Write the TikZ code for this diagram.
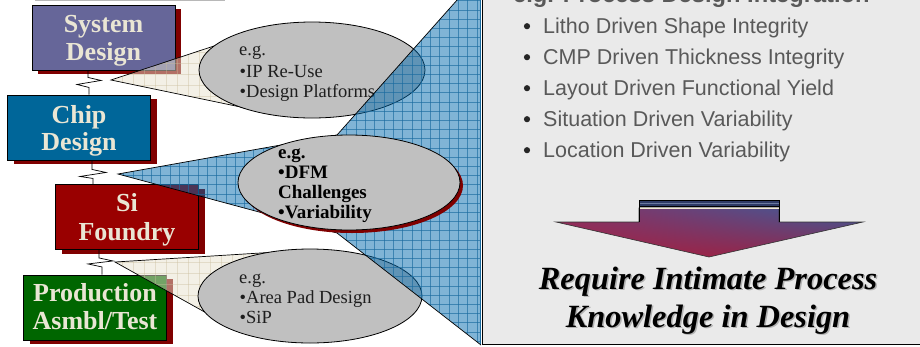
\documentclass[tikz,border=0pt]{standalone}
\usepackage{fontspec}
\setmainfont{Liberation Serif}
\newfontfamily\arialf{Liberation Sans}
\usetikzlibrary{shapes.geometric,shadows,shadings}
\definecolor{sysc}{HTML}{666699}
\definecolor{chipc}{HTML}{006699}
\definecolor{sic}{HTML}{990000}
\definecolor{prodc}{HTML}{006600}
\definecolor{shadc}{HTML}{800000}
\definecolor{boxtxt}{HTML}{EAE6D4}
\definecolor{creamc}{HTML}{E7E1CD}
\definecolor{creamline}{HTML}{C9BD9C}
\definecolor{bluec}{HTML}{0169AD}
\definecolor{blueline}{HTML}{1A6BA0}
\definecolor{ellc}{HTML}{C0C0C0}
\definecolor{panelc}{HTML}{EAEAEA}
\definecolor{paneltxt}{HTML}{595959}
\definecolor{ellt}{HTML}{1E1E1E}
\definecolor{arrUL}{HTML}{8A3062}
\definecolor{arrUR}{HTML}{3A5C9A}
\definecolor{arrLL}{HTML}{A82040}
\definecolor{arrLR}{HTML}{8A2850}
\definecolor{arrtop}{HTML}{2E3A66}
\definecolor{arrmid}{HTML}{6A7AA0}
\definecolor{arrlite}{HTML}{F0E8D0}
\begin{document}
\begin{tikzpicture}[x=1pt,y=-1pt,
  box/.style={draw=black, line width=0.9pt, minimum width=143pt, minimum height=65pt,
    inner sep=0pt,
    general shadow={fill=shadc, shadow xshift=6pt, shadow yshift=-4pt}},
  boxt/.style={anchor=base, inner sep=0pt, text=boxtxt, font=\fontsize{26}{29}\selectfont\bfseries},
  ell/.style={ellipse, draw=black, line width=0.8pt, fill=ellc, inner sep=0pt},
  etxt/.style={anchor=base west, inner sep=0pt, text=ellt, font=\fontsize{18.5}{21}\selectfont},
  btxt/.style={anchor=base west, inner sep=0pt, text=black, font=\fontsize{19}{21}\selectfont\bfseries},
  ptxt/.style={anchor=base west, inner sep=0pt, text=paneltxt, font=\arialf\fontsize{21.5}{25}\selectfont},
  bigtxt/.style={anchor=base, inner sep=0pt, font=\fontsize{32.4}{38}\selectfont\bfseries\itshape},
  zig/.style={draw=black, line width=0.7pt},
  edge/.style={draw=black, line width=0.7pt}
]
\useasboundingbox (0,0) rectangle (920,346);
\clip (0,0) rectangle (920,346);

% top grey line
\draw[black!28, line width=1.6pt] (35,0.6) -- (225,0.6);

% boxes
\node[box, fill=sysc]  (sys)  at (103.5,37.5) {};
\node[box, fill=chipc] (chip) at (79,127.5)   {};
\node[box, fill=sic]   (si)   at (127,217)    {};
\node[box, fill=prodc] (prod) at (95,307.5)   {};
\node[boxt] (sys1)  at ([yshift=5.2pt]sys.center)   {System};
\node[boxt] (sys2)  at ([yshift=-23.2pt]sys.center) {Design};
\node[boxt] (chip1) at ([yshift=4pt]chip.center)    {Chip};
\node[boxt] (chip2) at ([yshift=-23.3pt]chip.center){Design};
\node[boxt] (si1)   at ([yshift=5.3pt]si.center)    {Si};
\node[boxt] (si2)   at ([yshift=-23pt]si.center)    {Foundry};
\node[boxt] (prod1) at ([yshift=5.8pt]prod.center)  {Production};
\node[boxt] (prod2) at ([yshift=-21.8pt]prod.center){Asmbl/Test};

% zigzag links
\draw[zig] ([xshift=-15.5pt]sys.south) -- ++(0,7) -- ++(13,3) -- ++(-24,4) -- ++(12,3) |- ([xshift=10pt]chip.north);
\draw[zig] ([xshift=13pt]chip.south) -- ++(0,9) -- ++(14,3) -- ++(-26,4) -- ++(13,2) |- ([xshift=-34pt]si.north);
\draw[zig] ([xshift=-28pt]si.south) -- ++(0,8) -- ++(14,3) -- ++(-25,3) -- ++(14,3) |- ([xshift=7pt]prod.north);

% wedge 1 (cream)
\coordinate (w1a) at (111,80);
\begin{scope}
  \clip (w1a) -- (220,44) -- (312,70) -- (255,110) -- cycle;
  \fill[creamc, fill opacity=0.5] (100,30) rectangle (320,130);
  \foreach \i in {0,...,20} {\draw[creamline, opacity=0.4, line width=0.5pt] (100+11*\i,30) -- ++(0,100);}
  \foreach \i in {0,...,9} {\draw[creamline, opacity=0.4, line width=0.5pt] (100,30+11*\i) -- ++(220,0);}
\end{scope}
\draw[edge] (220,44) -- (w1a) -- (255,110);

% wedge 3 (cream)
\coordinate (w3a) at (115,262);
\begin{scope}
  \clip (w3a) -- (293,251) -- (310,296) -- (210,315) -- cycle;
  \fill[creamc, fill opacity=0.5] (100,240) rectangle (320,330);
  \foreach \i in {0,...,20} {\draw[creamline, opacity=0.4, line width=0.5pt] (100+11*\i,240) -- ++(0,90);}
  \foreach \i in {0,...,8} {\draw[creamline, opacity=0.4, line width=0.5pt] (100,240+11*\i) -- ++(220,0);}
\end{scope}
\draw[edge] (293,251) -- (w3a) -- (210,315);

% ellipses 1 and 3
\node[ell, minimum width=226pt, minimum height=96pt] (e1) at (312,70) {};
\node[ell, minimum width=224pt, minimum height=94pt] (e3) at (310,296) {};
\node[etxt] (e1a) at (239,55)   {e.g.};
\node[etxt] (e1b) at (239.5,77) {•IP Re-Use};
\node[etxt] (e1c) at (239.5,97.5) {•Design Platforms};
\node[etxt] (e3a) at (239,283)  {e.g.};
\node[etxt] (e3b) at (239.5,303) {•Area Pad Design};
\node[etxt] (e3c) at (239.5,323) {•SiP};

% blue wedge / triangle
\coordinate (bapex) at (118,174);
\begin{scope}
  \clip (bapex) -- (337,135) -- (466,-10) -- (480,-10) -- (480,344) -- (337,233) -- cycle;
  \fill[bluec, fill opacity=0.5] (100,-10) rectangle (481,350);
  \foreach \i in {0,...,41} {\draw[blueline, opacity=0.65, line width=0.6pt] (104.9+9.3*\i,-10) -- ++(0,360);}
  \foreach \i in {0,...,39} {\draw[blueline, opacity=0.65, line width=0.6pt] (100,-8.6+9.2*\i) -- ++(385,0);}
\end{scope}
\draw[edge] (337,233) -- (bapex) -- (337,135) -- (466,-10);
\draw[edge] (337,233) -- (481,345);

% ellipse 2
\node[ell, minimum width=222pt, minimum height=95pt,
  general shadow={fill=shadc, shadow xshift=3pt, shadow yshift=-3pt}] (e2) at (349,182.5) {};
\node[btxt] (e2a) at (278,158)   {e.g.};
\node[btxt] (e2b) at (278,178.3) {•DFM};
\node[btxt] (e2c) at (278,198.6) {Challenges};
\node[btxt] (e2d) at (278,218.5) {•Variability};

% right panel
\draw[blueline, line width=0.8pt] (480.3,-5) -- (480.3,344);
\draw[fill=panelc, line width=1pt] (482.5,-5) rectangle (925,344);
\node[anchor=base west, inner sep=0pt, text=paneltxt, font=\arialf\bfseries\fontsize{23.7}{28}\selectfont] (title) at (513,2.3) {e.g. Process Design Integration};
\foreach \t [count=\k from 0] in {Litho Driven Shape Integrity, CMP Driven Thickness Integrity, Layout Driven Functional Yield, Situation Driven Variability, Location Driven Variability} {
  \fill[black!85] (527,33.5-7.3+31*\k) circle (3.1pt);
  \node[ptxt] (li\k) at (543,33.5+31*\k) {\t};
}

% block arrow
\shade[upper left=arrUL, upper right=arrUR, lower left=arrLL, lower right=arrLR]
  (639,208) -- (779,208) -- (779,222) -- (863,222) -- (709,257) -- (556,222) -- (639,222) -- cycle;
\draw[black!80, line width=0.6pt]
  (639,208) -- (779,208) -- (779,222) -- (863,222) -- (709,257) -- (556,222) -- (639,222) -- cycle;
\fill[arrtop] (639,200) rectangle (779,207);
\draw[black, line width=0.8pt] (639,200.4) -- (779,200.4);
\draw[arrmid, line width=0.6pt] (639,203.5) -- (779,203.5);
\draw[black, line width=0.9pt] (639,206.8) -- (779,206.8);
\draw[arrlite, line width=0.6pt] (639,208.4) -- (779,208.4);
\draw[black, line width=0.6pt] (639,200) -- (639,222) (779,200) -- (779,222);

% conclusion text (soft shadow, then text)
\node[bigtxt, text=black!30] (c1s) at (709.5,290.5) {Require Intimate Process};
\node[bigtxt, text=black!30] (c2s) at (709.5,328.5) {Knowledge in Design};
\node[bigtxt, text=black] (c1) at (708,289) {Require Intimate Process};
\node[bigtxt, text=black] (c2) at (708,327) {Knowledge in Design};
\end{tikzpicture}
\end{document}
